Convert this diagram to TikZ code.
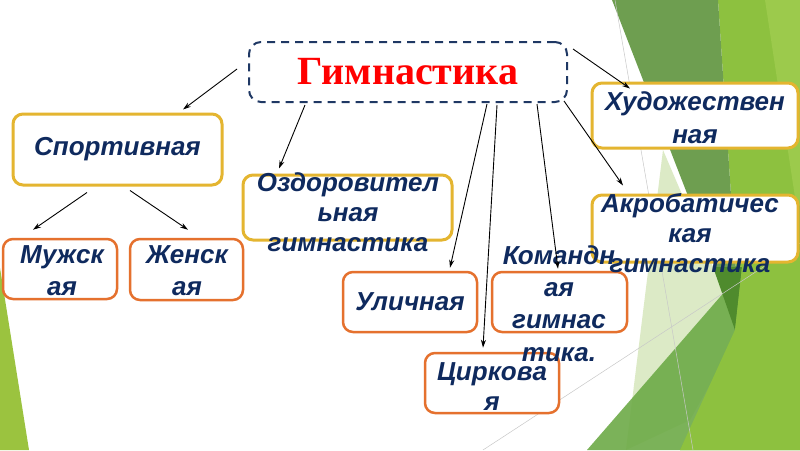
\documentclass[tikz,border=0pt]{standalone}
\usepackage{fontspec}
\setmainfont{Liberation Sans}
\newfontfamily\titlefont{Liberation Serif}
\usetikzlibrary{arrows.meta,calc}
\definecolor{navy}{HTML}{0F2A5E}
\definecolor{gold}{HTML}{E4B530}
\definecolor{orng}{HTML}{E5712E}
\definecolor{dashnavy}{HTML}{1F3864}
\definecolor{gleft}{HTML}{9BC33F}
\definecolor{gbright}{HTML}{8DC13F}
\definecolor{gdark}{HTML}{6E9E50}
\definecolor{gdarker}{HTML}{4F8B2D}
\definecolor{gpale}{HTML}{DCEAC6}
\definecolor{gmed}{HTML}{6DAA47}
\definecolor{glight}{HTML}{9CCA4C}
\definecolor{glinecol}{HTML}{C8C8C8}
\tikzset{
  goldbox/.style={draw=gold, line width=3pt, rounded corners=10pt, fill=white, inner sep=0pt},
  orangebox/.style={draw=orng, line width=2.5pt, rounded corners=10pt, fill=white, inner sep=0pt},
  lbl/.style={text=navy, font=\bfseries\itshape\fontsize{26}{31}\selectfont, align=center, inner sep=0pt},
  arr/.style={draw=black, line width=0.9pt, -{Stealth[length=8pt,width=5pt]}},
  bgline/.style={draw=glinecol, line width=0.5pt},
}
\begin{document}
\begin{tikzpicture}[x=1pt,y=-1pt]
\useasboundingbox (0,0) rectangle (800,450);
\fill[white] (0,0) rectangle (800,450);
% background shapes
\fill[gleft] (0,268) -- (0,450) -- (29,450) -- cycle;
\fill[gbright] (718,0) -- (800,0) -- (800,450) -- (680,450) -- (740,330) -- cycle;
\fill[glight] (765,0) -- (800,0) -- (800,230) -- cycle;
\fill[gpale] (663,150) -- (740,330) -- (690,420) -- (626,450) -- cycle;
\fill[gdark] (612,0) -- (718,0) -- (740,330) -- cycle;
\fill[gmed, opacity=0.9] (587,450) -- (800,205) -- (800,450) -- cycle;
\fill[gdarker] (713,267) -- (742,267) -- (735,330) -- cycle;
\fill[gbright] (680,450) -- (735,330) -- (742,267) -- (800,250) -- (800,450) -- cycle;
\draw[bgline] (615,0) -- (693,450);
\draw[bgline] (483,450) -- (800,243);
% boxes
\node[draw=dashnavy, line width=2pt, dash pattern=on 8pt off 6pt, rounded corners=12pt, fill=white,
      minimum width=318pt, minimum height=60pt, inner sep=0pt,
      text=red, font=\titlefont\bfseries\fontsize{40}{48}\selectfont] (gym) at (408,72) {Гимнастика};
\node[goldbox, minimum width=209pt, minimum height=71pt, lbl] (sport) at (117.5,149.5) {Спортивная};
\node[goldbox, minimum width=209pt, minimum height=65pt] (ozd) at (347.5,207.5) {};
\node[goldbox, minimum width=206pt, minimum height=65pt] (hud) at (695,115.5) {};
\node[goldbox, minimum width=206pt, minimum height=67pt] (akr) at (695,228.5) {};
\node[orangebox, minimum width=114pt, minimum height=60pt] (muzh) at (60,269) {};
\node[orangebox, minimum width=113pt, minimum height=61pt] (zhen) at (186.5,269.5) {};
\node[orangebox, minimum width=134pt, minimum height=60pt, lbl] (ulic) at (410,302) {Уличная};
\node[orangebox, minimum width=135pt, minimum height=60pt] (koma) at (559.5,302) {};
\node[orangebox, minimum width=134pt, minimum height=60pt] (cirk) at (492,383) {};
% texts
\node[lbl, font=\bfseries\itshape\fontsize{26}{30}\selectfont] (ozdt) at (348,212.5) {Оздоровител\\ьная\\гимнастика};
\node[lbl, font=\bfseries\itshape\fontsize{26}{33}\selectfont] (hudt) at (695,118) {Художествен\\ная};
\node[lbl, font=\bfseries\itshape\fontsize{26}{30}\selectfont] (akrt) at (690,233) {Акробатичес\\кая\\гимнастика};
\node[lbl, font=\bfseries\itshape\fontsize{26}{32}\selectfont] (muzht) at (62,271) {Мужск\\ая};
\node[lbl, font=\bfseries\itshape\fontsize{26}{32}\selectfont] (zhent) at (187,271) {Женск\\ая};
\node[lbl, font=\bfseries\itshape\fontsize{26}{32.3}\selectfont] (komat) at (559,303.5) {Командн\\ая\\гимнас\\тика.};
\node[lbl, font=\bfseries\itshape\fontsize{26}{30}\selectfont] (cirkt) at (492,387) {Цирковa\\я};
% arrows
\draw[arr] ($(gym.west)+(-11,-3)$) -- ($(sport.north)+(65.5,-3)$);
\draw[arr] ($(gym.south)+(-103,2)$) -- ($(ozd.north)+(-68.5,-5)$);
\draw[arr] ($(sport.south)+(-30.5,6)$) -- ($(muzh.north)+(-27,-8)$);
\draw[arr] ($(sport.south)+(12.5,4)$) -- ($(zhen.north)+(1.5,-8)$);
\draw[arr] ($(gym.east)+(5,-23)$) -- ($(hud.north)+(-65,7)$);
\draw[arr] ($(gym.south east)+(-4,-2)$) -- ($(akr.north)+(-72,-8)$);
\draw[arr] ($(gym.south)+(79,1)$) -- ($(ulic.north)+(40,-3)$);
\draw[arr] ($(gym.south)+(89,2)$) -- ($(cirk.north)+(-9,-4)$);
\draw[arr] ($(gym.south)+(129,1)$) -- ($(koma.north)+(-1.5,-2)$);
\end{tikzpicture}
\end{document}
